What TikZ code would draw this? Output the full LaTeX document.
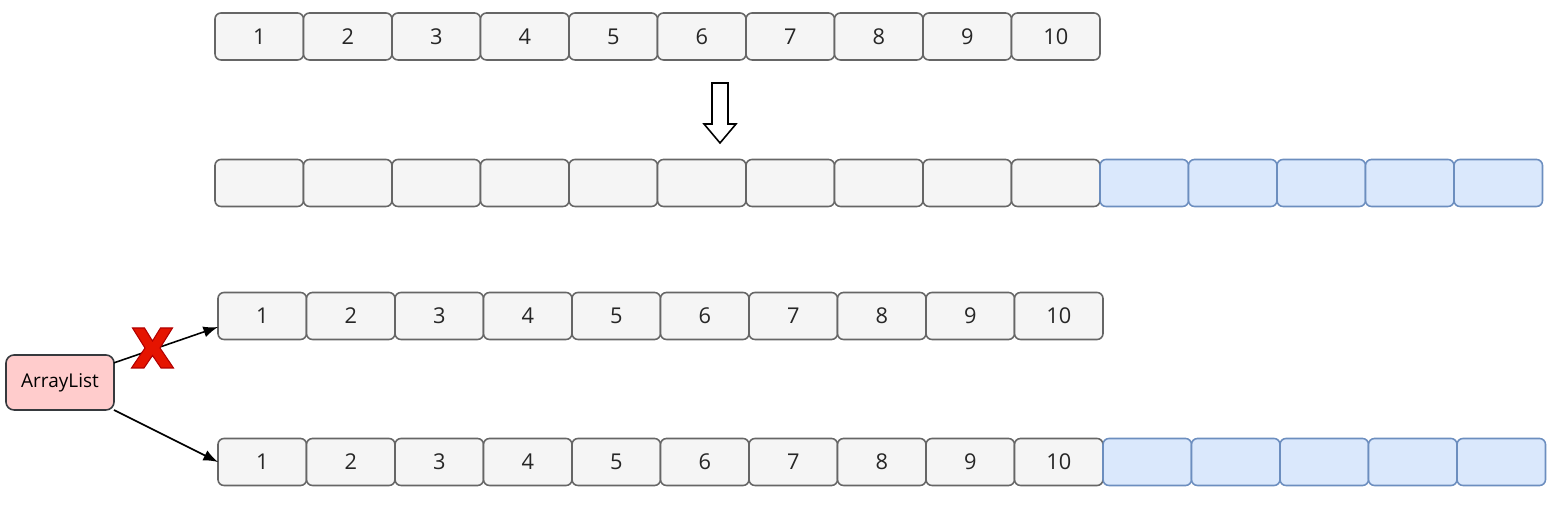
\documentclass[tikz,border=0pt]{standalone}
\usepackage{fontspec}
\setmainfont{Open Sans}
\usetikzlibrary{positioning}
\definecolor{cellfill}{HTML}{F5F5F5}
\definecolor{celldraw}{HTML}{666666}
\definecolor{newfill}{HTML}{DAE8FC}
\definecolor{newdraw}{HTML}{6C8EBF}
\definecolor{listfill}{HTML}{FFCCCC}
\definecolor{listdraw}{HTML}{36393D}
\definecolor{crossfill}{HTML}{E51400}
\definecolor{crossdraw}{HTML}{B20000}

\begin{document}
\begin{tikzpicture}[
    cell/.style={draw=celldraw, fill=cellfill, rounded corners=0.06cm, line width=0.45pt,
      minimum width=0.885cm, minimum height=0.47cm, inner sep=0pt, outer sep=0pt,
      font=\fontsize{6.2}{7}\selectfont, text=black!85},
    newcell/.style={cell, draw=newdraw, fill=newfill},
    listbox/.style={draw=listdraw, fill=listfill, rounded corners=0.08cm, line width=0.45pt,
      minimum width=1.08cm, minimum height=0.55cm, inner sep=0pt, outer sep=0pt,
      font=\fontsize{5.4}{6}\selectfont}]
    \useasboundingbox (0,0) rectangle (15.65,-5.15);

    % old array
    \node [cell] (a1) at (2.5925,-0.365) {1};
    \foreach \i [remember=\i as \prev (initially 1)] in {2,...,10}
      \node [cell, right=0pt of a\prev] (a\i) {\i};

    % grown array
    \node [cell] (b1) at (2.5925,-1.83) {};
    \foreach \i [remember=\i as \prev (initially 1)] in {2,...,10}
      \node [cell, right=0pt of b\prev] (b\i) {};
    \foreach \i [remember=\i as \prev (initially 10)] in {11,...,15}
      \node [newcell, right=0pt of b\prev] (b\i) {};

    \draw [black, line width=0.45pt] (7.12,-0.83) -- (7.28,-0.83) -- (7.28,-1.24) -- (7.36,-1.24)
      -- (7.20,-1.43) -- (7.04,-1.24) -- (7.12,-1.24) -- cycle;% Down arrow

    % reference moves
    \node [cell] (c1) at (2.6225,-3.16) {1};
    \foreach \i [remember=\i as \prev (initially 1)] in {2,...,10}
      \node [cell, right=0pt of c\prev] (c\i) {\i};

    \node [cell] (d1) at (2.6225,-4.62) {1};
    \foreach \i [remember=\i as \prev (initially 1)] in {2,...,10}
      \node [cell, right=0pt of d\prev] (d\i) {\i};
    \foreach \i [remember=\i as \prev (initially 10)] in {11,...,15}
      \node [newcell, right=0pt of d\prev] (d\i) {};

    \node [listbox] (list) at (0.60,-3.825) {ArrayList};

    \draw [-latex, line width=0.45pt] (list.20) -- (c1.194);
    \draw [-latex, line width=0.45pt] (list.south east) -- (d1.west);

    \draw [fill=crossfill, draw=crossdraw, line width=0.3pt, shift={(1.525,-3.48)}]
      (-0.20,0.20) -- (-0.08,0.20) -- (0,0.07) -- (0.08,0.20) -- (0.20,0.20) -- (0.075,0)
      -- (0.21,-0.20) -- (0.085,-0.20) -- (0,-0.075) -- (-0.085,-0.20) -- (-0.21,-0.20)
      -- (-0.075,0) -- cycle;% Red cross
\end{tikzpicture}
\end{document}
